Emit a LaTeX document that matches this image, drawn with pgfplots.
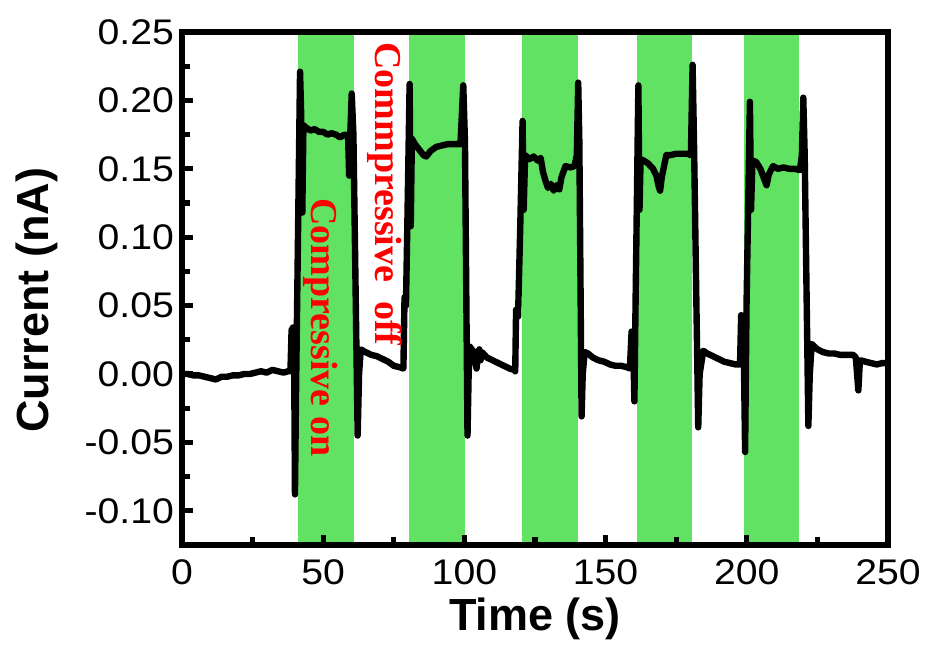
\documentclass[border=0pt]{standalone}
\usepackage{fontspec}
\setmainfont{Liberation Sans}
\newfontfamily\tickfont{Liberation Sans}[FakeStretch=1.1]
\newfontfamily\redserif{Liberation Serif}
\usepackage{pgfplots}
\pgfplotsset{compat=1.18}
\definecolor{bandgreen}{RGB}{98,226,98}
\definecolor{labelred}{RGB}{255,0,0}

\begin{document}
\begin{tikzpicture}
\path (-91pt,-54pt) rectangle (373.5pt,272.5pt);
\begin{axis}[
    at={(0,0)}, anchor=south west,
    scale only axis, width=353pt, height=256.5pt,
    xmin=0, xmax=250, ymin=-0.125, ymax=0.25,
    xtick={0,50,100,150,200,250},
    minor xtick={25,50,75,100,125,150,175,200,225},
    ytick={-0.10,-0.05,0,0.05,0.10,0.15,0.20,0.25},
    minor ytick={-0.10,-0.075,-0.05,-0.025,0,0.025,0.05,0.075,0.10,0.125,0.15,0.175,0.20,0.225},
    scaled y ticks=false,
    tick align=inside, xtick pos=bottom, ytick pos=left,
    major tick length=5.25pt, minor tick length=4.2pt,
    tick style={black, line width=2.6pt},
    axis line style={line width=3pt},
    axis on top,
    /pgf/number format/assume math mode=true,
    yticklabel style={/pgf/number format/fixed, /pgf/number format/fixed zerofill, /pgf/number format/precision=2},
    ticklabel style={font=\tickfont\fontsize{17.8}{20}\selectfont},
    xticklabel style={yshift=-4pt},
    yticklabel style={xshift=-0.5pt},
    xlabel={Time (s)}, ylabel={Current (nA)},
    every axis x label/.style={at={(axis description cs:0.5,-0.1445)}, anchor=center,
        font=\bfseries\fontsize{22.5}{24}\selectfont},
    every axis y label/.style={at={(axis description cs:-0.2054,0.477)}, rotate=90, anchor=center,
        font=\bfseries\fontsize{22.5}{24}\selectfont},
]
% compressive intervals
\addplot[fill=bandgreen, draw=none, forget plot] coordinates {(41.1,-0.125) (60.8,-0.125) (60.8,0.25) (41.1,0.25)} -- cycle;
\addplot[fill=bandgreen, draw=none, forget plot] coordinates {(80.4,-0.125) (100.1,-0.125) (100.1,0.25) (80.4,0.25)} -- cycle;
\addplot[fill=bandgreen, draw=none, forget plot] coordinates {(120.5,-0.125) (140.1,-0.125) (140.1,0.25) (120.5,0.25)} -- cycle;
\addplot[fill=bandgreen, draw=none, forget plot] coordinates {(161.0,-0.125) (180.6,-0.125) (180.6,0.25) (161.0,0.25)} -- cycle;
\addplot[fill=bandgreen, draw=none, forget plot] coordinates {(198.9,-0.125) (218.4,-0.125) (218.4,0.25) (198.9,0.25)} -- cycle;

% current trace
\addplot[black, line width=3.2pt, line join=round, line cap=round] coordinates {
(0,0.000) (2,0.000) (4,-0.001) (6,-0.001) (8,-0.002) (10,-0.003) (12,-0.004) (14,-0.002)
(16,-0.002) (18,-0.001) (20,-0.001) (22,0.000) (24,0.000) (26,0.001) (28,0.002) (30,0.001)
(32,0.003) (34,0.002) (36,0.001) (37.5,0.002) (38.4,0.002)
(38.8,0.032) (39.3,0.034) (39.7,0.015) (40.0,-0.088) (40.4,-0.010) (41.8,0.221) (42.2,0.190)
(42.6,0.118) (43.0,0.182) (44,0.180) (45.5,0.178) (47,0.179) (48.5,0.177) (50,0.177)
(51.5,0.175) (53,0.176) (54.5,0.175) (56,0.173) (57.5,0.175) (58.8,0.174) (59.2,0.145)
(59.6,0.176) (60.1,0.205) (60.7,0.175) (62.2,-0.045) (62.7,0.000) (63.3,0.018) (65,0.016)
(67,0.014) (69,0.013) (71,0.011) (73,0.009) (75,0.006) (77,0.005) (78.4,0.004)
(78.8,0.056) (79.3,0.050) (79.8,0.110) (80.6,0.212) (81.0,0.108) (81.4,0.172) (82.5,0.168)
(84,0.164) (85.5,0.160) (86.5,0.159) (88,0.163) (90,0.166) (92,0.167) (94,0.168) (96,0.168)
(98.6,0.168) (99.6,0.211) (100.2,0.170) (101.1,-0.045) (101.5,0.000) (101.9,0.020) (103,0.017)
(104.3,0.004) (104.7,0.015) (105.3,0.018) (105.7,0.010) (106.2,0.016) (108,0.012) (110,0.010)
(112,0.008) (114,0.006) (116,0.004) (117.6,0.003)
(118.0,0.002) (118.3,0.047) (119.0,0.042) (119.8,0.110) (120.6,0.185) (121.0,0.120) (121.5,0.160)
(123,0.157) (124.5,0.159) (126,0.156) (127,0.158) (127.8,0.148) (128.6,0.142) (129.6,0.136)
(130.6,0.139) (131.6,0.134) (132.6,0.138) (133.6,0.135) (134.4,0.144) (135.8,0.152) (137.5,0.151)
(139,0.152) (139.8,0.160) (140.3,0.213) (140.7,0.170) (141.5,-0.031) (141.9,0.000) (142.6,0.016)
(143.8,0.015) (145.5,0.012) (147.5,0.010) (149.5,0.009) (151.5,0.007) (153.5,0.006) (155.5,0.006)
(157.5,0.005) (158.6,0.004)
(159.2,0.031) (159.7,0.028) (160.2,-0.020) (160.6,0.050) (161.6,0.211) (162.0,0.120) (162.4,0.157)
(163.5,0.156) (165,0.154) (166.8,0.150) (168,0.145) (168.8,0.137) (169.3,0.134) (169.9,0.144)
(171.5,0.160) (173,0.160) (175,0.161) (177,0.161) (179,0.161) (180.2,0.160) (180.8,0.226)
(181.3,0.170) (182.8,-0.039) (183.3,0.000) (184.6,0.017) (186,0.015) (188,0.013) (190,0.011)
(192,0.009) (194,0.008) (196,0.007) (197.6,0.007)
(198.0,0.043) (198.8,0.038) (199.4,-0.057) (199.9,0.050) (201.1,0.199) (201.5,0.120) (202.0,0.156)
(203.3,0.155) (204.8,0.150) (205.9,0.144) (207.0,0.138) (207.8,0.146) (209.3,0.152) (211,0.150)
(213,0.151) (215,0.150) (217,0.150) (218.8,0.149) (219.5,0.160) (220.0,0.202) (220.5,0.160)
(221.8,-0.038) (222.3,0.000) (223.0,0.022) (225,0.018) (227,0.016) (229,0.015) (231,0.015)
(233,0.014) (235,0.014) (237.7,0.014) (238.6,0.012) (239.5,-0.012) (240.0,0.008) (240.4,0.010)
(242,0.009) (244,0.008) (246,0.007) (248,0.008) (250,0.008)
};

\node[rotate=-90, text=labelred, font=\redserif\bfseries\fontsize{19}{20}\selectfont]
  at (axis cs:71.9,0.1316) {Commpressive\ \ off};
\node[rotate=-90, text=labelred, font=\redserif\bfseries\fontsize{19}{20}\selectfont]
  at (axis cs:49.2,0.034) {Compressive on};
\end{axis}
\end{tikzpicture}
\end{document}
